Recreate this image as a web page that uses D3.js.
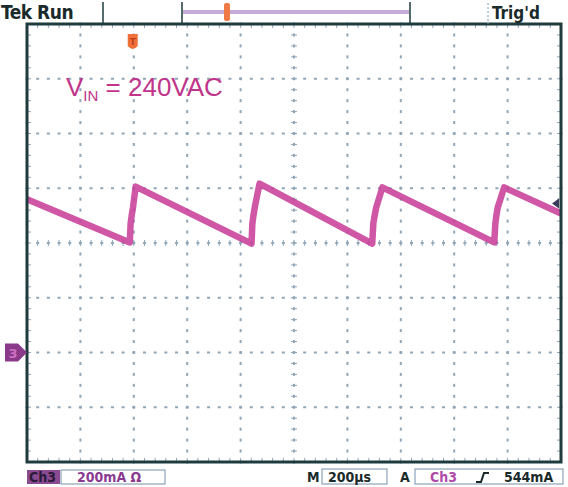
<!DOCTYPE html>
<html><head><meta charset="utf-8">
<script src="https://cdn.jsdelivr.net/npm/d3@7"></script>
<style>body{margin:0;background:#fff}svg{display:block}</style>
</head><body>
<svg id="c" width="568" height="487"></svg>
<script>
// Data (time from left edge of screen in µs, current in mA)
const timeUs =    [0,   385, 388, 392, 397, 407, 841, 844, 848, 853, 871, 1293, 1297, 1302, 1308, 1331, 1750, 1754, 1758, 1763, 1787, 2000];
const currentmA = [560, 402, 470, 500, 530, 606, 398, 470, 500, 530, 617, 398,  470,  500,  530,  603,  402,  470,  500,  530,  603,  508];
const timeTicks = [0,200,400,600,800,1000,1200,1400,1600,1800,2000];
const currentTicks = [-400,-200,0,200,400,600,800,1000,1200];
const triggerTimeUs = 396;
const triggerLevelmA = 544;
const labels = {title:"Tek Run", trig:"Trig'd", ch:"Ch3", vdiv:"200mA", tdiv:"200µs", trigCh:"Ch3", trigLvl:"544mA"};

const svg = d3.select("#c");
const L=27, R=561, T=24, B=462;
const x = d3.scaleLinear().domain([0,2000]).range([L,R]);
const y = d3.scaleLinear().domain([-400,1200]).range([B,T]);
const frame = "#1f3b3d", gridC = "#8fa6b8", trace = "#c8409a";
const font = "DejaVu Sans Condensed, sans-serif";

// grid dots
const g = svg.append("g");
const minorT = d3.range(0,2001,40), minorI = d3.range(-400,1201,40);
timeTicks.slice(1,-1).forEach(t=>{
  minorI.forEach(v=>g.append("rect").attr("x",x(t)-1).attr("y",y(v)-1.5).attr("width",2).attr("height",3).attr("fill",gridC));
});
currentTicks.slice(1,-1).forEach(v=>{
  minorT.forEach(t=>g.append("rect").attr("x",x(t)-1.5).attr("y",y(v)-1).attr("width",3).attr("height",2).attr("fill",gridC));
});
// center axis ticks
minorT.forEach(t=>g.append("line").attr("x1",x(t)).attr("x2",x(t)).attr("y1",y(400)-3).attr("y2",y(400)+3).attr("stroke",gridC).attr("stroke-width",1));
minorI.forEach(v=>g.append("line").attr("x1",x(1000)-3).attr("x2",x(1000)+3).attr("y1",y(v)).attr("y2",y(v)).attr("stroke",gridC).attr("stroke-width",1));
// border ticks
minorT.forEach(t=>{
  g.append("line").attr("x1",x(t)).attr("x2",x(t)).attr("y1",T).attr("y2",T+4).attr("stroke",gridC);
  g.append("line").attr("x1",x(t)).attr("x2",x(t)).attr("y1",B-4).attr("y2",B).attr("stroke",gridC);
});
minorI.forEach(v=>{
  g.append("line").attr("x1",L).attr("x2",L+4).attr("y1",y(v)).attr("y2",y(v)).attr("stroke",gridC);
  g.append("line").attr("x1",R-4).attr("x2",R).attr("y1",y(v)).attr("y2",y(v)).attr("stroke",gridC);
});

// trace
const pts = timeUs.map((t,i)=>[t,currentmA[i]]);
svg.append("path").datum(pts)
  .attr("d", d3.line().x(d=>x(d[0])).y(d=>y(d[1])))
  .attr("fill","none").attr("stroke",trace).attr("stroke-width",6.5).attr("stroke-linejoin","round").attr("opacity",0.88);

// frame
svg.append("rect").attr("x",L).attr("y",T).attr("width",R-L).attr("height",B-T)
  .attr("fill","none").attr("stroke",frame).attr("stroke-width",3);

// Vin label
const vt = svg.append("text").attr("x",66).attr("y",96).attr("fill","#c0358a")
  .attr("font-family","Liberation Sans, Arial, sans-serif").attr("font-size",26);
vt.append("tspan").text("V");
vt.append("tspan").attr("font-size",15).attr("dy",5).text("IN");
vt.append("tspan").attr("dy",-5).text(" = 240VAC");

// top bar
svg.append("text").attr("x",1).attr("y",19).attr("font-family",font).attr("font-weight","bold").attr("font-size",19).attr("fill","#1a2a2a").attr("letter-spacing",-0.5).text(labels.title);
[103,182,410].forEach(xx=>svg.append("line").attr("x1",xx).attr("x2",xx).attr("y1",2).attr("y2",T).attr("stroke",frame).attr("stroke-width",1.5));
svg.append("line").attr("x1",488).attr("x2",488).attr("y1",3).attr("y2",T).attr("stroke","#7f9db0").attr("stroke-width",1).attr("stroke-dasharray","2,2");
svg.append("rect").attr("x",183).attr("y",10).attr("width",226).attr("height",4).attr("fill","#c4acd6");
svg.append("rect").attr("x",224).attr("y",3).attr("width",6).attr("height",18).attr("fill","#f07a45").attr("rx",2);
svg.append("text").attr("x",492).attr("y",19).attr("font-family",font).attr("font-weight","bold").attr("font-size",17).attr("fill","#1a2a2a").text(labels.trig);

// trigger position marker
const tx = x(triggerTimeUs);
svg.append("path").attr("d",`M${tx-5},${T+10} L${tx+5},${T+10} L${tx+5},${T+22} Q${tx},${T+28} ${tx-5},${T+22} Z`).attr("fill","#f0703a");
svg.append("text").attr("x",tx).attr("y",T+21).attr("text-anchor","middle").attr("font-size",9).attr("font-weight","bold").attr("fill","#c04020").attr("font-family","DejaVu Sans").text("T");

// ground marker
const gy = y(0);
svg.append("path").attr("d",`M5,${gy-9} L18,${gy-9} L27,${gy} L18,${gy+9} L5,${gy+9} Z`).attr("fill","#8a3a88");
svg.append("text").attr("x",13).attr("y",gy+5).attr("text-anchor","middle").attr("font-size",13).attr("font-weight","bold").attr("fill","#d070c0").attr("font-family","DejaVu Sans").text("3");

// trigger level marker
const ty = y(triggerLevelmA);
svg.append("path").attr("d",`M${R-9},${ty} L${R-2},${ty-5} L${R-2},${ty+5} Z`).attr("fill","#3a3a5a");

// bottom bar
const by = 470;
svg.append("rect").attr("x",27).attr("y",by).attr("width",33).attr("height",14).attr("fill","#8a4a90");
svg.append("text").attr("x",29).attr("y",by+12).attr("font-family",font).attr("font-weight","bold").attr("font-size",14).attr("fill","#2a1a3a").text(labels.ch);
svg.append("rect").attr("x",61).attr("y",by).attr("width",104).attr("height",14).attr("fill","none").attr("stroke","#8aa3b8").attr("stroke-width",1.2);
svg.append("text").attr("x",77).attr("y",by+12).attr("font-family",font).attr("font-weight","bold").attr("font-size",14).attr("fill","#8a3a90").text(labels.vdiv+" Ω");

svg.append("text").attr("x",307).attr("y",by+12).attr("font-family",font).attr("font-weight","bold").attr("font-size",14).attr("fill","#1a2a2a").text("M");
svg.append("rect").attr("x",322).attr("y",by-1).attr("width",65).attr("height",15).attr("fill","none").attr("stroke","#8aa3b8").attr("stroke-width",1.2);
svg.append("text").attr("x",328).attr("y",by+12).attr("font-family",font).attr("font-weight","bold").attr("font-size",14).attr("fill","#1a2a2a").text(labels.tdiv);
svg.append("text").attr("x",400).attr("y",by+12).attr("font-family",font).attr("font-weight","bold").attr("font-size",14).attr("fill","#1a2a2a").text("A");
svg.append("rect").attr("x",415).attr("y",by-1).attr("width",148).attr("height",15).attr("fill","none").attr("stroke","#8aa3b8").attr("stroke-width",1.2);
svg.append("text").attr("x",430).attr("y",by+12).attr("font-family",font).attr("font-weight","bold").attr("font-size",14).attr("fill","#b04aa8").text(labels.trigCh);
svg.append("path").attr("d",`M476,${by+12} L481,${by+12} L484,${by+3} L489,${by+3}`).attr("fill","none").attr("stroke","#1a2a2a").attr("stroke-width",2);
svg.append("text").attr("x",504).attr("y",by+12).attr("font-family",font).attr("font-weight","bold").attr("font-size",14).attr("fill","#1a2a2a").text(labels.trigLvl);
</script>
</body></html>
